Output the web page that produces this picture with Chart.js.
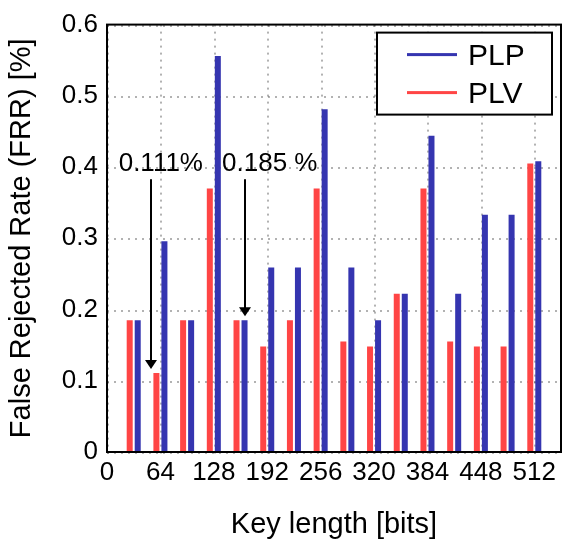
<!DOCTYPE html>
<html>
<head>
<meta charset="utf-8">
<script src="https://cdn.jsdelivr.net/npm/chart.js@4.4.1/dist/chart.umd.min.js"></script>
<style>
  html, body { margin: 0; padding: 0; background: #fff; }
  #wrap { width: 583px; height: 541px; }
</style>
</head>
<body>
<div id="wrap"><canvas id="frrChart" width="583" height="541"></canvas></div>
<script>
// key lengths (bits) and FRR values (%)
const keyLengths = [32, 64, 96, 128, 160, 192, 224, 256, 288, 320, 352, 384, 416, 448, 480, 512];
const plvValues = [0.185, 0.111, 0.185, 0.370, 0.185, 0.148, 0.185, 0.370, 0.155, 0.148, 0.222, 0.370, 0.155, 0.148, 0.148, 0.405];
const plpValues = [0.185, 0.296, 0.185, 0.556, 0.185, 0.259, 0.259, 0.481, 0.259, 0.185, 0.222, 0.444, 0.222, 0.333, 0.333, 0.408];
const xTicks = [0, 64, 128, 192, 256, 320, 384, 448, 512];

// call-outs: text, text position, arrow x, value pointed at
const noteTexts = ['0.111%', '0.185 %'];
const noteTextX = [64.5, 195];
const noteTextY = [0.404, 0.404];
const noteArrowX = [53, 165];
const noteValues = [0.111, 0.185];

const FONT = "'Liberation Sans', Arial, sans-serif";
const RED = '#ff4545';
const BLUE = '#3535b0';

const toPoints = (vals) => keyLengths.map((k, i) => ({ x: k, y: vals[i] }));

// dotted grid under the bars (drawn as small dots)
const gridPlugin = {
    id: 'dottedGrid',
    beforeDatasetsDraw(chart) {
        const ctx = chart.ctx;
        const a = chart.chartArea;
        ctx.save();
        ctx.fillStyle = 'rgba(0,0,0,0.3)';
        chart.scales.x.ticks.forEach(t => {
            const px = Math.round(chart.scales.x.getPixelForValue(t.value));
            for (let y = a.top; y < a.bottom; y += 7) ctx.fillRect(px, y, 2, 2);
        });
        chart.scales.y.ticks.forEach(t => {
            const py = Math.round(chart.scales.y.getPixelForValue(t.value));
            for (let x = a.left; x < a.right; x += 7) ctx.fillRect(x, py, 2, 2);
        });
        ctx.restore();
    }
};

// frame, legend box and arrow call-outs
const extrasPlugin = {
    id: 'extras',
    afterDraw(chart) {
        const ctx = chart.ctx;
        const a = chart.chartArea;
        const xs = chart.scales.x;
        const ys = chart.scales.y;
        ctx.save();

        // call-outs
        ctx.fillStyle = '#000';
        ctx.font = '26px ' + FONT;
        ctx.textAlign = 'center';
        ctx.textBaseline = 'middle';
        noteTexts.forEach((t, i) => {
            ctx.fillText(t, xs.getPixelForValue(noteTextX[i]), ys.getPixelForValue(noteTextY[i]));
            const ax = Math.round(xs.getPixelForValue(noteArrowX[i]));
            const y0 = ys.getPixelForValue(noteTextY[i]) + 15;
            const y1 = ys.getPixelForValue(noteValues[i]) - 4;
            ctx.fillRect(ax - 1, y0, 2, y1 - 8 - y0);
            ctx.beginPath();
            ctx.moveTo(ax - 6, y1 - 9);
            ctx.lineTo(ax + 6, y1 - 9);
            ctx.lineTo(ax, y1);
            ctx.closePath();
            ctx.fill();
        });

        // legend
        const bx = a.right - 184, by = a.top + 8, bw = 175, bh = 82;
        ctx.fillStyle = '#fff';
        ctx.fillRect(bx, by, bw, bh);
        ctx.strokeStyle = '#000';
        ctx.lineWidth = 2;
        ctx.strokeRect(bx, by, bw, bh);
        const items = [chart.data.datasets[1], chart.data.datasets[0]];
        ctx.font = '30px ' + FONT;
        ctx.textAlign = 'left';
        items.forEach((ds, i) => {
            const ly = by + 22 + i * 38;
            ctx.fillStyle = ds.backgroundColor;
            ctx.fillRect(bx + 30, ly - 1.5, 50, 3);
            ctx.fillStyle = '#000';
            ctx.fillText(ds.label, bx + 91, ly + 2);
        });

        // full box around the plot
        ctx.strokeStyle = '#000';
        ctx.lineWidth = 2;
        ctx.strokeRect(a.left, a.top, a.right - a.left, a.bottom - a.top);
        ctx.restore();
    }
};

const ctx = document.getElementById('frrChart').getContext('2d');
const frrChart = new Chart(ctx, {
    type: 'bar',
    data: {
        datasets: [
            { label: 'PLV', data: toPoints(plvValues), backgroundColor: RED, borderWidth: 0 },
            { label: 'PLP', data: toPoints(plpValues), backgroundColor: BLUE, borderWidth: 0 }
        ]
    },
    options: {
        responsive: false,
        animation: false,
        categoryPercentage: 0.6,
        barPercentage: 0.75,
        layout: { padding: { left: 0, right: 22, top: 23, bottom: 0 } },
        plugins: {
            legend: { display: false },
            tooltip: { enabled: false }
        },
        scales: {
            x: {
                type: 'linear',
                offset: false,
                min: 0,
                max: 544,
                afterBuildTicks: (scale) => { scale.ticks = xTicks.map(v => ({ value: v })); },
                afterFit: (scale) => { scale.height = 89; },
                grid: { display: false, drawTicks: false },
                border: { display: false },
                ticks: { color: '#000', font: { family: FONT, size: 26 }, padding: 5, maxRotation: 0, autoSkip: false },
                title: {
                    display: true,
                    text: 'Key length [bits]',
                    color: '#000',
                    font: { family: FONT, size: 29, lineHeight: 1.1 },
                    padding: { top: 0, bottom: 0 }
                }
            },
            y: {
                min: 0,
                max: 0.6,
                afterFit: (scale) => { scale.width = 107; },
                grid: { display: false, drawTicks: false },
                border: { display: false },
                ticks: {
                    stepSize: 0.1,
                    color: '#000',
                    font: { family: FONT, size: 26 },
                    padding: 9,
                    callback: (v) => (v === 0 ? '0' : v.toFixed(1))
                },
                title: {
                    display: true,
                    text: 'False Rejected Rate (FRR) [%]',
                    color: '#000',
                    font: { family: FONT, size: 29, lineHeight: 1.1 },
                    padding: { top: 6, bottom: 0 }
                }
            }
        }
    },
    plugins: [gridPlugin, extrasPlugin]
});
</script>
</body>
</html>
